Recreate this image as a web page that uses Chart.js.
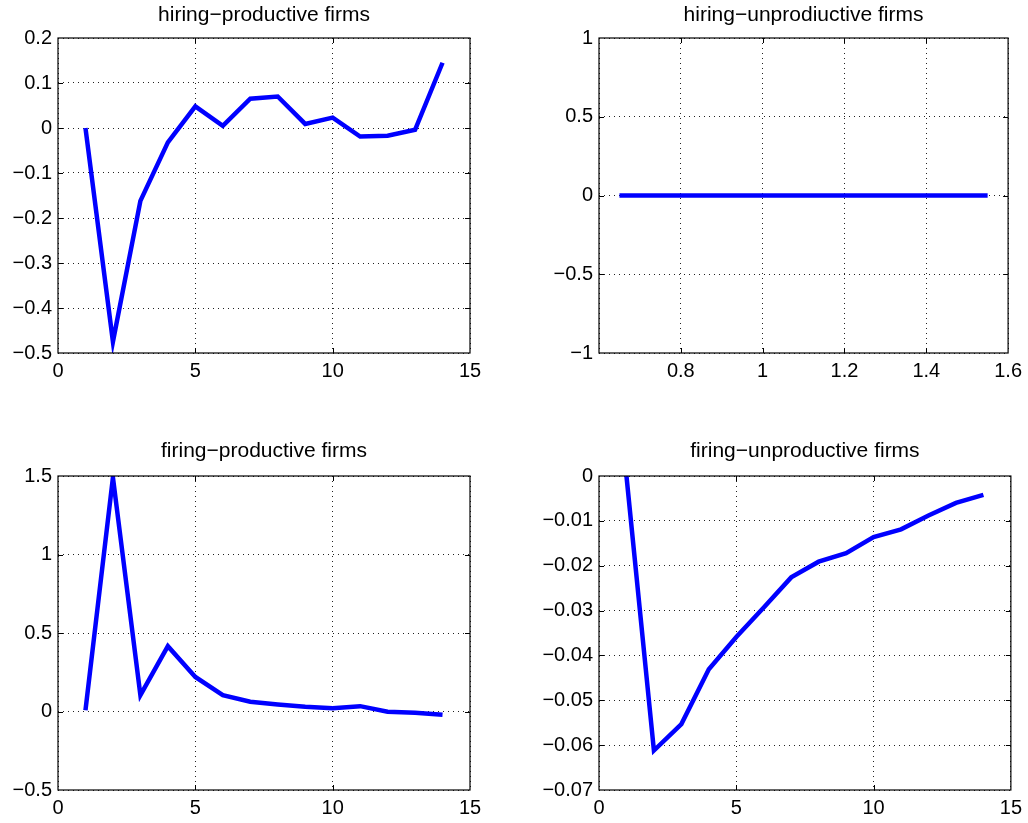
<!DOCTYPE html>
<html>
<head>
<meta charset="utf-8">
<script src="https://cdn.jsdelivr.net/npm/chart.js@4/dist/chart.umd.min.js"></script>
<style>
  body { margin: 0; background: #fff; }
  #wrap { position: relative; width: 1028px; height: 823px; background: #fff; }
  canvas { position: absolute; }
</style>
</head>
<body>
<div id="wrap">
  <canvas id="c1" width="514" height="411" style="left:0;top:0"></canvas>
  <canvas id="c2" width="514" height="411" style="left:514px;top:0"></canvas>
  <canvas id="c3" width="514" height="412" style="left:0;top:411px"></canvas>
  <canvas id="c4" width="514" height="412" style="left:514px;top:411px"></canvas>
</div>
<script>
// periods after the shock
const periods = [1, 2, 3, 4, 5, 6, 7, 8, 9, 10, 11, 12, 13, 14];

// series
const hiringProductive = [0, -0.475, -0.162, -0.032, 0.048, 0.005, 0.065, 0.070, 0.009, 0.023, -0.019, -0.017, -0.004, 0.145];
const hiringUnproductiveX = [0.65, 1.55];
const hiringUnproductive = [0, 0];
const firingProductive = [0.008, 1.49, 0.104, 0.416, 0.22, 0.104, 0.062, 0.045, 0.030, 0.021, 0.034, -0.002, -0.008, -0.021];
const firingUnproductive = [0, -0.0612, -0.0553, -0.0431, -0.0359, -0.0293, -0.0226, -0.0191, -0.0172, -0.0136, -0.0119, -0.0088, -0.0060, -0.0042];

const titles = ['hiring\u2212productive firms', 'hiring\u2212unprodiuctive firms', 'firing\u2212productive firms', 'firing\u2212unproductive firms'];

const FONT = 'Liberation Sans, Arial, Helvetica, sans-serif';
const FSIZE = 20;
const TSIZE = 21;

function fmt(v) {
    return String(Math.round(v * 10000) / 10000).replace('-', '\u2212');
}

// box round the plot area plus small inward ticks, like matlab "box on"
const boxPlugin = {
    id: 'box',
    afterDraw(chart) {
        const a = chart.chartArea;
        const ctx = chart.ctx;
        const len = 5;
        ctx.save();
        ctx.strokeStyle = '#000';
        ctx.lineWidth = 1;
        ctx.beginPath();
        const xs = chart.scales.x, ys = chart.scales.y;
        xs.ticks.forEach(t => {
            if (t.value <= xs.min || t.value >= xs.max) return;
            const px = Math.round(xs.getPixelForValue(t.value)) + 0.5;
            ctx.moveTo(px, a.bottom); ctx.lineTo(px, a.bottom - len);
            ctx.moveTo(px, a.top); ctx.lineTo(px, a.top + len);
        });
        ys.ticks.forEach(t => {
            if (t.value <= ys.min || t.value >= ys.max) return;
            const py = Math.round(ys.getPixelForValue(t.value)) + 0.5;
            ctx.moveTo(a.left, py); ctx.lineTo(a.left + len, py);
            ctx.moveTo(a.right, py); ctx.lineTo(a.right - len, py);
        });
        ctx.stroke();
        ctx.lineWidth = 1.2;
        ctx.strokeRect(a.left, a.top, a.right - a.left, a.bottom - a.top);
        ctx.restore();
    }
};

function makeChart(id, title, xs, ys, opt) {
    const pts = xs.map((x, i) => ({ x: x, y: ys[i] }));
    new Chart(document.getElementById(id), {
        type: 'line',
        data: {
            datasets: [{
                data: pts,
                borderColor: '#0000ff',
                borderWidth: 4.5,
                pointRadius: 0,
                tension: 0,
                fill: false
            }]
        },
        options: {
            responsive: false,
            animation: false,
            devicePixelRatio: 1,
            layout: { padding: { left: 0, right: opt.padRight, top: 0, bottom: 0 } },
            plugins: {
                legend: { display: false },
                tooltip: { enabled: false },
                title: {
                    display: true,
                    fullSize: false,
                    text: title,
                    color: '#000',
                    font: { family: FONT, size: TSIZE, weight: 'normal', lineHeight: 1.2 },
                    padding: { top: opt.titleTop, bottom: opt.titleBottom }
                }
            },
            scales: {
                x: {
                    type: 'linear',
                    min: opt.xmin, max: opt.xmax,
                    afterFit: s => { s.height = opt.xHeight; },
                    afterBuildTicks: s => { s.ticks = opt.xticks.map(v => ({ value: v })); },
                    border: { display: false, dash: [1, 4] },
                    grid: { color: '#222', lineWidth: 1, drawTicks: false },
                    ticks: {
                        padding: 6, color: '#000', maxRotation: 0,
                        font: { family: FONT, size: FSIZE },
                        callback: v => (opt.hideX && opt.hideX.includes(v)) ? '' : fmt(v)
                    }
                },
                y: {
                    min: opt.ymin, max: opt.ymax,
                    afterFit: s => { s.width = opt.yWidth; },
                    afterBuildTicks: s => { s.ticks = opt.yticks.map(v => ({ value: v })); },
                    border: { display: false, dash: [1, 4] },
                    grid: { color: '#222', lineWidth: 1, drawTicks: false },
                    ticks: {
                        padding: 6, color: '#000',
                        font: { family: FONT, size: FSIZE },
                        callback: v => fmt(v)
                    }
                }
            }
        },
        plugins: [boxPlugin]
    });
}

const xTicks15 = [0, 5, 10, 15];

makeChart('c1', titles[0], periods, hiringProductive, {
    xmin: 0, xmax: 15, xticks: xTicks15,
    ymin: -0.5, ymax: 0.2, yticks: [-0.5, -0.4, -0.3, -0.2, -0.1, 0, 0.1, 0.2],
    yWidth: 58, padRight: 44, xHeight: 58, titleTop: 2.4, titleBottom: 10.4
});

makeChart('c2', titles[1], hiringUnproductiveX, hiringUnproductive, {
    xmin: 0.6, xmax: 1.6, xticks: [0.6, 0.8, 1, 1.2, 1.4, 1.6], hideX: [0.6],
    ymin: -1, ymax: 1, yticks: [-1, -0.5, 0, 0.5, 1],
    yWidth: 85, padRight: 17, xHeight: 58, titleTop: 2.4, titleBottom: 10.4
});

makeChart('c3', titles[2], periods, firingProductive, {
    xmin: 0, xmax: 15, xticks: xTicks15,
    ymin: -0.5, ymax: 1.5, yticks: [-0.5, 0, 0.5, 1, 1.5],
    yWidth: 58, padRight: 44, xHeight: 33, titleTop: 28.1, titleBottom: 11.7
});

makeChart('c4', titles[3], periods, firingUnproductive, {
    xmin: 0, xmax: 15, xticks: xTicks15,
    ymin: -0.07, ymax: 0, yticks: [-0.07, -0.06, -0.05, -0.04, -0.03, -0.02, -0.01, 0],
    yWidth: 85, padRight: 17, xHeight: 33, titleTop: 28.1, titleBottom: 11.7
});
</script>
</body>
</html>
